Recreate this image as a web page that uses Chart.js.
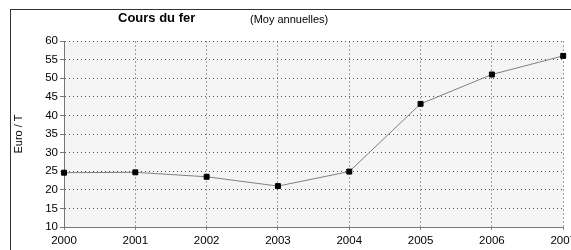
<!DOCTYPE html>
<html>
<head>
<meta charset="utf-8">
<script src="https://cdn.jsdelivr.net/npm/chart.js@4"></script>
<style>
  html, body { margin: 0; padding: 0; background: #fff; overflow: hidden; }
  #wrap { position: absolute; left: 0; top: 0; width: 580px; height: 250px; }
</style>
</head>
<body>
<div id="wrap"><canvas id="myChart" width="580" height="250"></canvas></div>
<script>
const years = ['2000', '2001', '2002', '2003', '2004', '2005', '2006', '2007'];
const prices = [24.6, 24.7, 23.5, 21.0, 24.9, 43.1, 51.0, 56.0];
const titleText = 'Cours du fer';
const subtitleText = '(Moy annuelles)';
const yTitle = 'Euro / T';

const fontName = "'Liberation Sans', Arial, sans-serif";

// grey plot area, outer frame and the two title texts
const decor = {
    id: 'decor',
    beforeDraw(chart) {
        const { ctx, chartArea: a } = chart;
        ctx.save();
        ctx.fillStyle = '#f5f5f5';
        ctx.fillRect(a.left, a.top, a.right - a.left, a.bottom - a.top);
        ctx.strokeStyle = '#333';
        ctx.lineWidth = 1;
        ctx.strokeRect(10.5, 9.5, 700, 400);
        ctx.restore();
    },
    afterDraw(chart) {
        const ctx = chart.ctx;
        ctx.save();
        ctx.fillStyle = '#000';
        ctx.textBaseline = 'middle';
        ctx.textAlign = 'left';
        ctx.font = 'bold 13px ' + fontName;
        ctx.fillText(titleText, 118, 18);
        ctx.font = '11px ' + fontName;
        ctx.fillText(subtitleText, 250, 20);
        ctx.restore();
    }
};

const ctx = document.getElementById('myChart').getContext('2d');
const myChart = new Chart(ctx, {
    type: 'line',
    data: {
        labels: years,
        datasets: [{
            data: prices,
            borderColor: '#808080',
            borderWidth: 1,
            tension: 0,
            pointStyle: 'rect',
            pointRadius: 3.5,
            pointBackgroundColor: '#000',
            pointBorderColor: '#000',
            pointBorderWidth: 1,
            clip: false
        }]
    },
    options: {
        responsive: false,
        animation: false,
        layout: {
            padding: { top: 41, left: 8, right: 0, bottom: 0 }
        },
        scales: {
            x: {
                offset: false,
                grid: {
                    color: '#a0a0a0',
                    tickColor: '#888',
                    tickLength: 3,
                    offset: false
                },
                border: {
                    color: '#777',
                    dash: [2, 2]
                },
                ticks: {
                    color: '#000',
                    padding: 4,
                    maxRotation: 0,
                    autoSkip: false,
                    font: { family: fontName, size: 11.5 }
                },
                afterFit(scale) { scale.height = 23; }
            },
            y: {
                min: 10,
                max: 60,
                grid: {
                    color: '#555',
                    tickColor: '#777',
                    tickLength: 4
                },
                border: {
                    color: '#777',
                    dash: [1, 3]
                },
                ticks: {
                    stepSize: 5,
                    color: '#000',
                    padding: 2,
                    font: { family: fontName, size: 11.5 }
                },
                title: {
                    display: true,
                    text: yTitle,
                    color: '#000',
                    font: { family: fontName, size: 11 }
                },
                afterFit(scale) { scale.width = 56; }
            }
        },
        plugins: {
            legend: { display: false },
            tooltip: { enabled: false }
        }
    },
    plugins: [decor]
});
</script>
</body>
</html>
